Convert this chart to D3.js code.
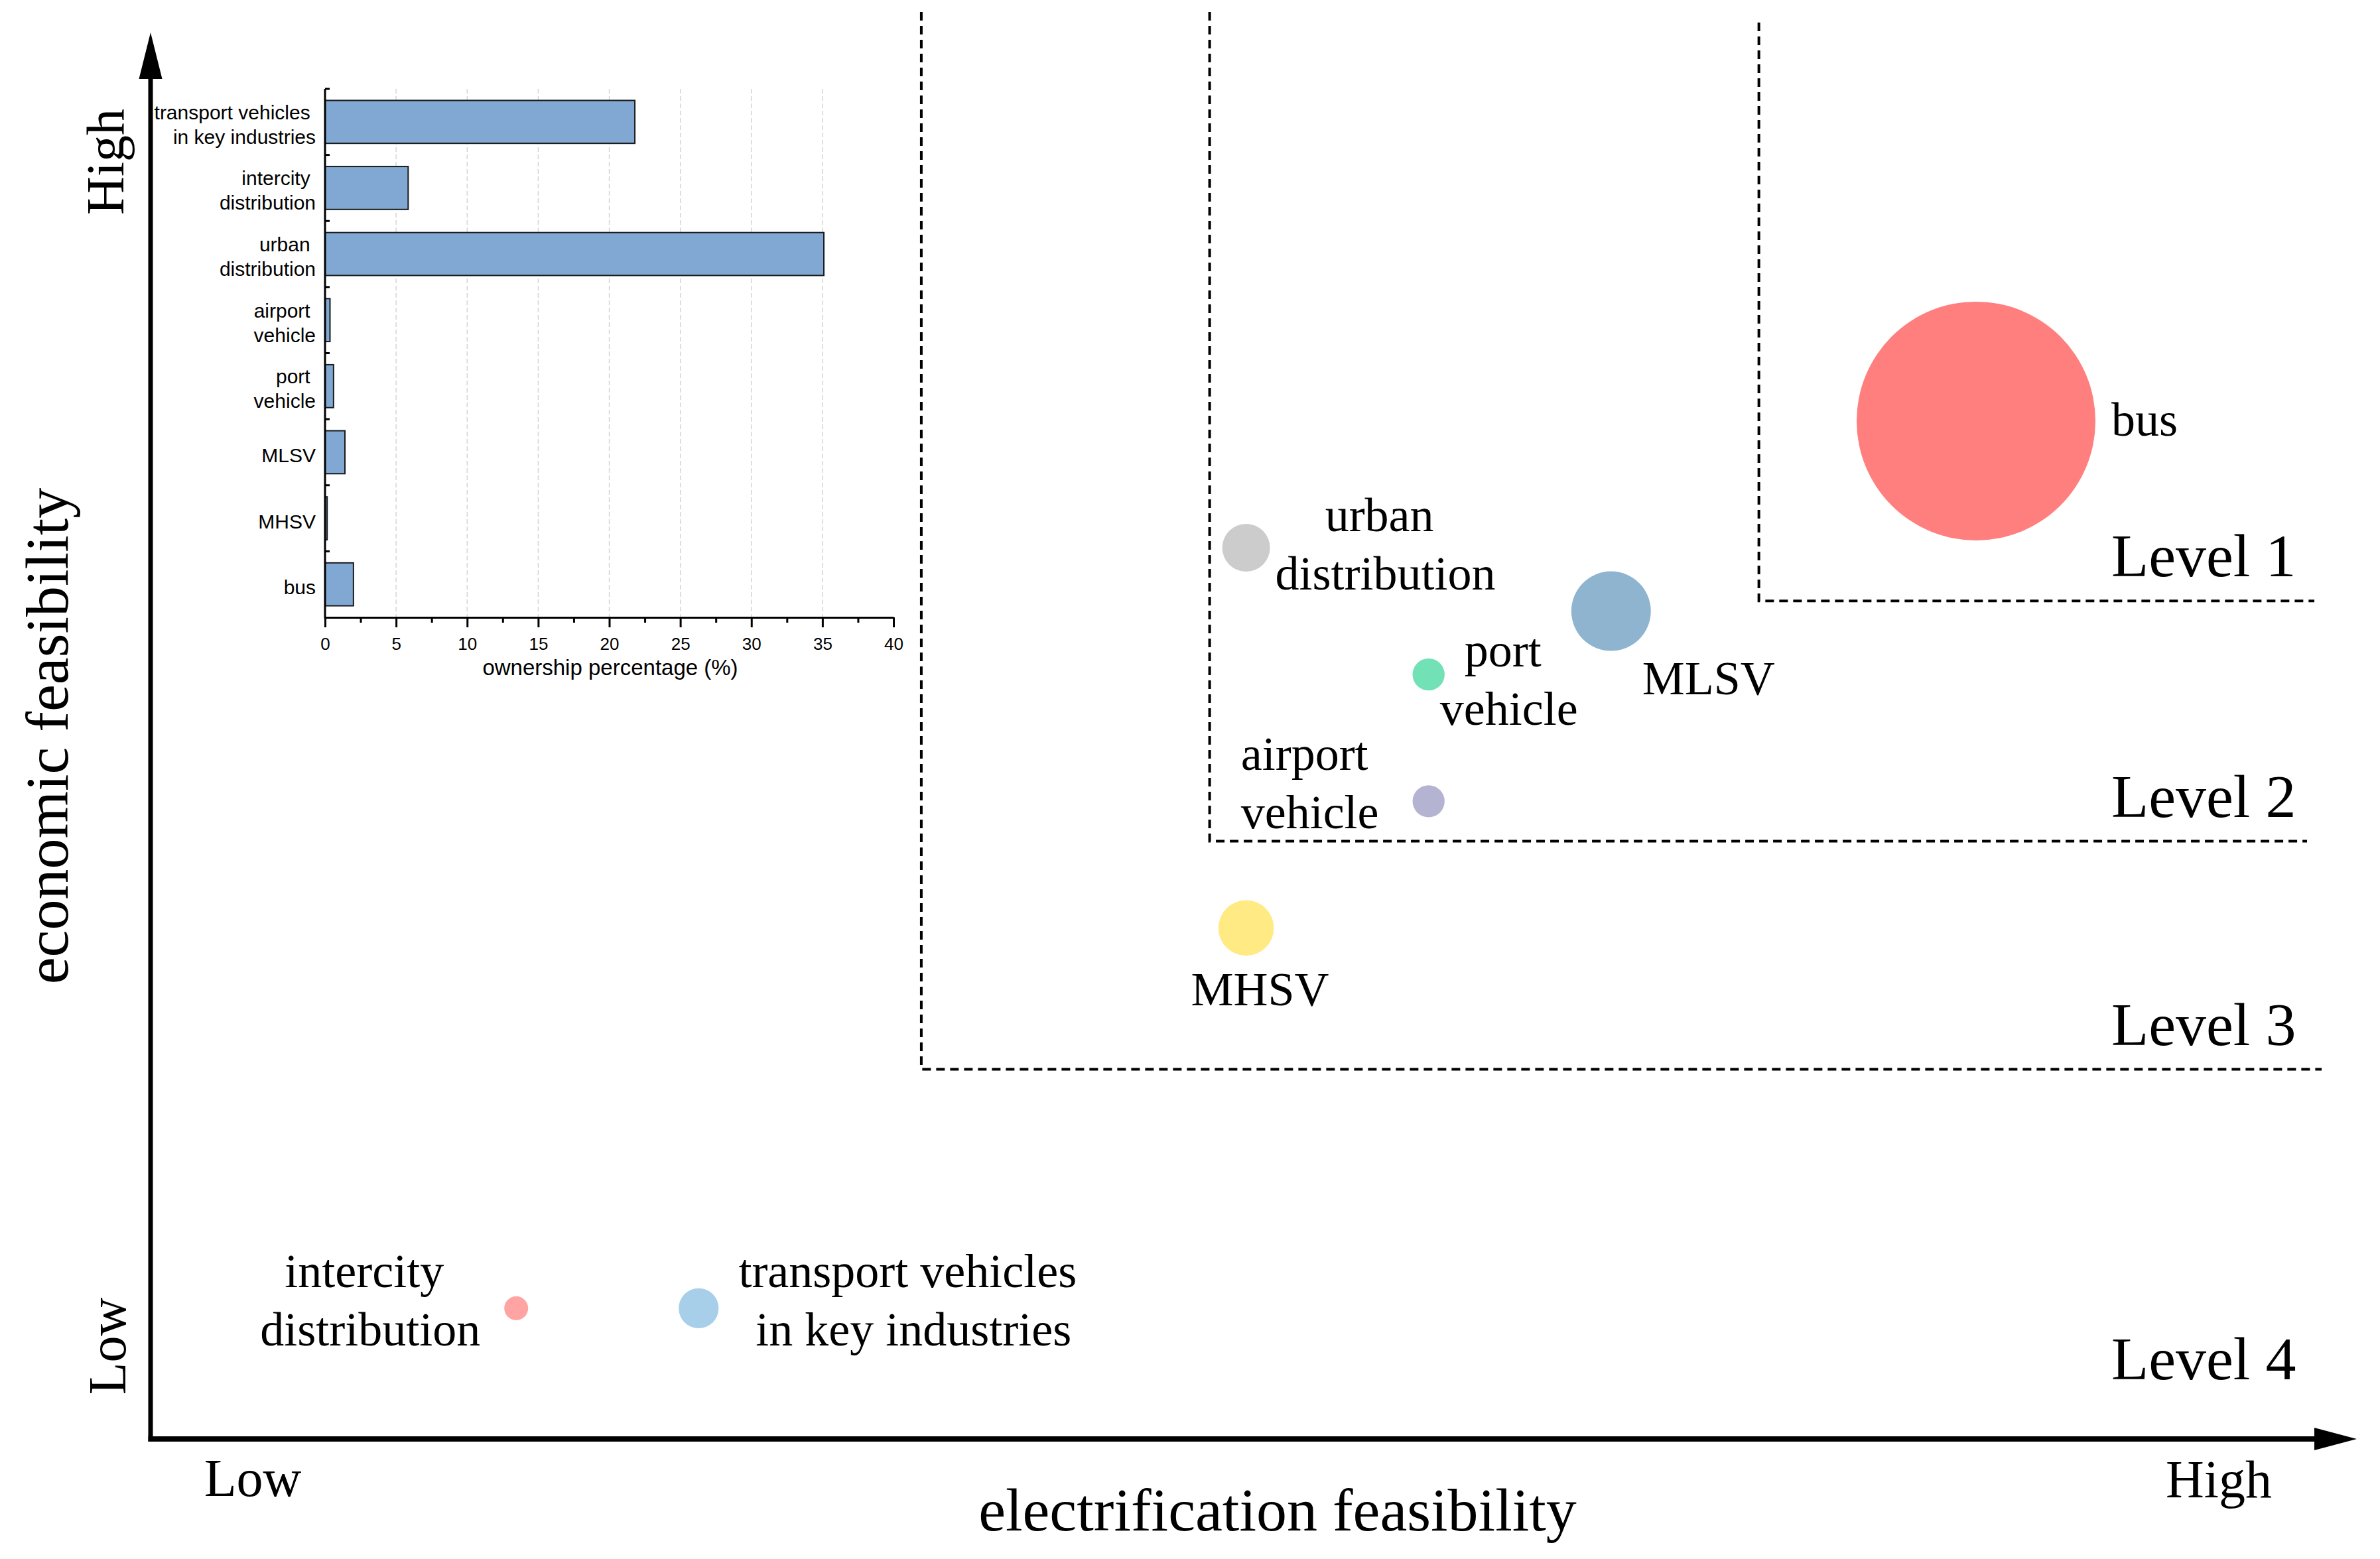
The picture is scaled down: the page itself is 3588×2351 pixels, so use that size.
<!DOCTYPE html>
<html>
<head>
<meta charset="utf-8">
<script src="https://cdn.jsdelivr.net/npm/d3@7"></script>
<style>
  body { margin: 0; background: #fff; }
  text { white-space: pre; }
</style>
</head>
<body>
<div id="chart"></div>
<script>
// bubble chart data
var vehicles = ["bus", "urban distribution", "MLSV", "port vehicle", "airport vehicle",
                "MHSV", "intercity distribution", "transport vehicles in key industries"];
var electrification = [10, 6, 8, 7, 7, 6, 2, 3];
var economic = [16, 14, 13, 12, 10, 8, 2, 2];
var bubbleValue = [100, 4.0, 11.1, 1.8, 1.8, 5.4, 1.0, 2.8];
var bubbleColors = ["#ff7f7f", "#cccccc", "#8fb4d0", "#72e1b6", "#b4b4d2",
                    "#ffea84", "#ffa3a3", "#a8cfea"];

// level boundaries (electrification, economic)
var levelNames = ["Level 1", "Level 2", "Level 3", "Level 4"];
var levelX = [8.81, 5.8, 4.22];
var levelY = [13.16, 9.37, 5.77];

// inset bar chart data
var barCategories = ["transport vehicles \nin key industries", "intercity \ndistribution",
                     "urban \ndistribution", "airport \nvehicle", "port \nvehicle",
                     "MLSV", "MHSV", "bus"];
var ownership = [21.8, 5.85, 35.1, 0.35, 0.6, 1.4, 0.15, 2.0];
var ownershipTicks = [0, 5, 10, 15, 20, 25, 30, 35, 40];
var ownershipMinor = [2.5, 7.5, 12.5, 17.5, 22.5, 27.5, 32.5, 37.5];

var serif = "'Liberation Serif', 'Times New Roman', serif";
var sans = "'Liberation Sans', Arial, sans-serif";

var width = 3588, height = 2351;

var svg = d3.select("#chart")
  .append("svg")
    .attr("width", width)
    .attr("height", height);

svg.append("rect").attr("width", width).attr("height", height).attr("fill", "#fff");

// main scales
var x = d3.scaleLinear().domain([0, 12]).range([228, 228 + 12 * 275.1]);
var y = d3.scaleLinear().domain([0, 22]).range([2164, 2164 - 22 * 95.57]);
var r = d3.scaleSqrt().domain([0, 100]).range([0, 180]);

// level boundary dashed lines
var lineTop = [34, 18, 18];
var lineRight = [3489, 3478, 3500];
levelX.forEach(function(lx, i) {
  var px = x(lx), py = y(levelY[i]);
  svg.append("path")
    .attr("d", "M" + px + "," + lineTop[i] + "V" + py + "H" + lineRight[i])
    .attr("fill", "none")
    .attr("stroke", "#000")
    .attr("stroke-width", 4)
    .attr("stroke-dasharray", "13,8");
});

// level labels
levelNames.forEach(function(name, i) {
  var by = i < 3 ? y(levelY[i]) - 37 : 2080;
  svg.append("text")
    .attr("x", 3183)
    .attr("y", by)
    .attr("font-family", serif)
    .attr("font-size", 92)
    .text(name);
});

// bubbles
var data = vehicles.map(function(v, i) {
  return {name: v, ex: electrification[i], ec: economic[i], val: bubbleValue[i], color: bubbleColors[i]};
});

svg.selectAll("circle.bubble")
  .data(data)
  .enter()
  .append("circle")
    .attr("class", "bubble")
    .attr("cx", function(d) { return x(d.ex); })
    .attr("cy", function(d) { return y(d.ec); })
    .attr("r", function(d) { return r(d.val); })
    .attr("fill", function(d) { return d.color; });

// bubble labels: offsets from bubble centre
var labelLayout = {
  "bus": {lines: ["bus"], dx: 204, dy: 22, anchor: "start"},
  "urban distribution": {lines: ["urban ", "distribution"], dx: 210, dy: -25, anchor: "middle"},
  "MLSV": {lines: ["MLSV"], dx: 47, dy: 125, anchor: "start"},
  "port vehicle": {lines: ["port ", "vehicle"], dx: 121, dy: -12, anchor: "middle"},
  "airport vehicle": {lines: ["airport", "vehicle"], dx: -283, dy: -47, anchor: "start"},
  "MHSV": {lines: ["MHSV"], dx: 21, dy: 117, anchor: "middle"},
  "intercity distribution": {lines: ["intercity ", "distribution"], dx: -220, dy: -32, anchor: "middle"},
  "transport vehicles in key industries": {lines: ["transport vehicles ", "in key industries"], dx: 324, dy: -32, anchor: "middle"}
};

data.forEach(function(d) {
  var L = labelLayout[d.name];
  var t = svg.append("text")
    .attr("font-family", serif)
    .attr("font-size", 72)
    .attr("text-anchor", L.anchor);
  L.lines.forEach(function(line, k) {
    t.append("tspan")
      .attr("x", x(d.ex) + L.dx)
      .attr("y", y(d.ec) + L.dy + k * 88)
      .text(line);
  });
});

// main axes with arrows
svg.append("line")
  .attr("x1", 227).attr("y1", 2174).attr("x2", 227).attr("y2", 112)
  .attr("stroke", "#000").attr("stroke-width", 7);
svg.append("path")
  .attr("d", "M227,49L209.5,119L244.5,119Z")
  .attr("fill", "#000");
svg.append("line")
  .attr("x1", 223.5).attr("y1", 2170).attr("x2", 3495).attr("y2", 2170)
  .attr("stroke", "#000").attr("stroke-width", 8);
svg.append("path")
  .attr("d", "M3553,2170L3489,2153L3489,2187Z")
  .attr("fill", "#000");

// axis labels
svg.append("text")
  .attr("transform", "translate(186,244) rotate(-90)")
  .attr("text-anchor", "middle")
  .attr("font-family", serif).attr("font-size", 80)
  .text("High");
svg.append("text")
  .attr("transform", "translate(189,2030) rotate(-90)")
  .attr("text-anchor", "middle")
  .attr("font-family", serif).attr("font-size", 80)
  .text("Low");
svg.append("text")
  .attr("transform", "translate(102,1110) rotate(-90)")
  .attr("text-anchor", "middle")
  .attr("font-family", serif).attr("font-size", 92)
  .text("economic feasibility");
svg.append("text")
  .attr("x", 381).attr("y", 2256)
  .attr("text-anchor", "middle")
  .attr("font-family", serif).attr("font-size", 80)
  .text("Low");
svg.append("text")
  .attr("x", 3345).attr("y", 2258)
  .attr("text-anchor", "middle")
  .attr("font-family", serif).attr("font-size", 80)
  .text("High");
svg.append("text")
  .attr("x", 1926).attr("y", 2308)
  .attr("text-anchor", "middle")
  .attr("font-family", serif).attr("font-size", 92)
  .text("electrification feasibility");

// ---------- inset bar chart ----------
var xi = d3.scaleLinear().domain([0, 40]).range([490, 1347]);
var yi = d3.scaleBand().domain(barCategories).range([134, 931])
  .paddingInner(0.35).paddingOuter(0.175);

// dashed grid
svg.append("g")
  .selectAll("line")
  .data(ownershipTicks.slice(1, -1))
  .enter()
  .append("line")
    .attr("x1", function(d) { return xi(d); })
    .attr("x2", function(d) { return xi(d); })
    .attr("y1", 134).attr("y2", 931)
    .attr("stroke", "#d0d0d0")
    .attr("stroke-width", 1.3)
    .attr("stroke-dasharray", "7,4");

// bars
svg.append("g")
  .selectAll("rect")
  .data(barCategories)
  .enter()
  .append("rect")
    .attr("x", xi(0))
    .attr("y", function(d) { return yi(d); })
    .attr("width", function(d, i) { return xi(ownership[i]) - xi(0); })
    .attr("height", yi.bandwidth())
    .attr("fill", "#80a8d3")
    .attr("stroke", "#1a1a1a")
    .attr("stroke-width", 2);

// x axis (major + minor ticks)
var xAxisG = svg.append("g")
  .attr("transform", "translate(0,931)")
  .call(d3.axisBottom(xi).tickValues(ownershipTicks).tickSize(15).tickSizeOuter(0));
xAxisG.attr("font-family", sans).attr("font-size", 26);
xAxisG.select(".domain").attr("stroke-width", 3);
xAxisG.selectAll(".tick line").attr("stroke-width", 3);
xAxisG.selectAll(".tick text").attr("y", 49).attr("dy", 0).attr("fill", "#000");

var minorG = svg.append("g")
  .attr("transform", "translate(0,931)")
  .call(d3.axisBottom(xi).tickValues(ownershipMinor).tickSize(8).tickFormat(""));
minorG.select(".domain").remove();
minorG.selectAll(".tick line").attr("stroke-width", 3);

svg.append("text")
  .attr("x", 920).attr("y", 1018)
  .attr("text-anchor", "middle")
  .attr("font-family", sans).attr("font-size", 33)
  .text("ownership percentage (%)");

// y axis line and boundary ticks
svg.append("line")
  .attr("x1", 490).attr("x2", 490).attr("y1", 134).attr("y2", 932.5)
  .attr("stroke", "#000").attr("stroke-width", 3);
svg.append("g")
  .selectAll("line")
  .data(barCategories)
  .enter()
  .append("line")
    .attr("x1", 490).attr("x2", 497)
    .attr("y1", function(d) { return yi(d) - yi.step() * yi.paddingInner() / 2; })
    .attr("y2", function(d) { return yi(d) - yi.step() * yi.paddingInner() / 2; })
    .attr("stroke", "#000").attr("stroke-width", 3);

// category labels
barCategories.forEach(function(c) {
  var lines = c.split("\n");
  var cy = yi(c) + yi.bandwidth() / 2;
  var t = svg.append("text")
    .attr("font-family", sans)
    .attr("font-size", 30)
    .attr("text-anchor", "end");
  lines.forEach(function(line, k) {
    t.append("tspan")
      .attr("x", 476)
      .attr("y", lines.length === 2 ? cy - 4 + k * 37 : cy + 15)
      .text(line);
  });
});
</script>
</body>
</html>
